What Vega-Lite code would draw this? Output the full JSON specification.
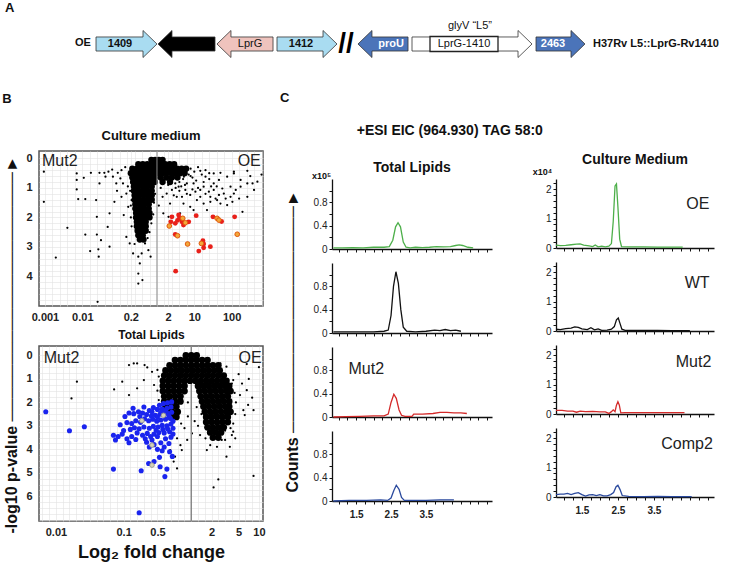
{
"$schema":"https://vega.github.io/schema/vega-lite/v6.json",
"background":"white",
"padding":{"left":2,"top":2,"right":2,"bottom":0},
"config":{
 "font":"Liberation Sans",
 "view":{"stroke":null},
 "axis":{"labelFont":"Liberation Sans","titleFont":"Liberation Sans","domainColor":"#111","tickColor":"#111","labelColor":"#222","titleColor":"#111","labelFlush":false,"labelOverlap":false},
 "title":{"font":"Liberation Sans","fontWeight":"bold","color":"#111"}
},
"datasets":{
 "genes":[
  {"gene":"Rv1409","label":"1409","kind":"light","center":126.5,"mid":120},
  {"gene":"Rv1410c","label":"","kind":"black","center":186.5,"mid":190},
  {"gene":"LprG","label":"LprG","kind":"pink","center":245,"mid":250},
  {"gene":"Rv1412","label":"1412","kind":"light","center":307,"mid":301},
  {"gene":"proU","label":"proU","kind":"dark","center":383,"mid":391},
  {"gene":"L5","label":"","kind":"white","center":472,"mid":464},
  {"gene":"Rv2463","label":"2463","kind":"dark","center":560.5,"mid":553}
 ],
 "cm_ns":[
  {"lfc":-3.03,"nlp":0.45},{"lfc":-3.03,"nlp":1.47},{"lfc":-2.71,"nlp":3.36},{"lfc":-2.4,"nlp":2.35},{"lfc":-2.15,"nlp":0.51},{"lfc":-2.15,"nlp":0.73},{"lfc":-2.15,"nlp":1.05},{"lfc":-2.11,"nlp":1.38},{"lfc":-1.96,"nlp":0.66},{"lfc":-1.92,"nlp":1.38},{"lfc":-1.92,"nlp":2.58},{"lfc":-1.79,"nlp":3.14},{"lfc":-1.77,"nlp":0.49},{"lfc":-1.63,"nlp":1.41},{"lfc":-1.61,"nlp":1.98},{"lfc":-1.61,"nlp":2.58},{"lfc":-1.57,"nlp":3.08},{"lfc":-1.56,"nlp":3.33},{"lfc":-1.59,"nlp":4.86},{"lfc":-1.54,"nlp":0.49},{"lfc":-1.5,"nlp":2.77},{"lfc":-1.54,"nlp":0.85},{"lfc":-1.41,"nlp":0.49},{"lfc":-1.38,"nlp":0.62},{"lfc":-1.32,"nlp":2.32},{"lfc":-1.27,"nlp":2.99},{"lfc":-1.27,"nlp":1.86},{"lfc":-1.14,"nlp":1.47},{"lfc":-1.18,"nlp":0.62},{"lfc":-1.09,"nlp":0.85},{"lfc":-1.05,"nlp":0.49},{"lfc":-0.98,"nlp":0.68},{"lfc":-0.91,"nlp":0.85},{"lfc":-1.07,"nlp":1.1},{"lfc":-0.95,"nlp":1.3},{"lfc":-0.82,"nlp":1.19},{"lfc":-0.77,"nlp":1.64},{"lfc":-0.89,"nlp":1.92},{"lfc":-0.68,"nlp":1.41},{"lfc":-0.82,"nlp":2.66},{"lfc":-0.73,"nlp":2.88},{"lfc":-0.64,"nlp":3.22},{"lfc":-0.5,"nlp":3.33},{"lfc":-0.41,"nlp":3.22},{"lfc":-0.17,"nlp":3.33},{"lfc":-0.5,"nlp":3.9},{"lfc":-0.5,"nlp":4.24},{"lfc":-0.39,"nlp":4.12},{"lfc":-0.46,"nlp":3.56},{"lfc":-0.23,"nlp":3.11},{"lfc":-0.32,"nlp":2.88},
  {"lfc":-0.85,"nlp":0.3},{"lfc":-0.95,"nlp":0.4},{"lfc":-1.2,"nlp":0.38},{"lfc":-1.3,"nlp":0.45},{"lfc":-0.78,"nlp":0.95},{"lfc":-0.72,"nlp":1.1},{"lfc":-0.7,"nlp":1.6},{"lfc":-0.7,"nlp":2.0},{"lfc":-0.68,"nlp":2.3},{"lfc":-0.6,"nlp":2.9},{"lfc":-0.25,"nlp":2.7},{"lfc":-0.2,"nlp":2.5},{"lfc":-0.15,"nlp":2.2},{"lfc":-0.1,"nlp":1.9},{"lfc":-0.08,"nlp":1.5},{"lfc":-0.05,"nlp":1.2},
  {"lfc":0.44,"nlp":0.62},{"lfc":0.8,"nlp":0.85},{"lfc":1.16,"nlp":1.07},{"lfc":1.52,"nlp":0.85},{"lfc":1.88,"nlp":0.62},{"lfc":2.06,"nlp":0.51},{"lfc":2.24,"nlp":0.73},{"lfc":2.42,"nlp":0.85},{"lfc":2.69,"nlp":0.79},{"lfc":2.6,"nlp":1.07},{"lfc":2.42,"nlp":1.3},{"lfc":2.29,"nlp":1.81},{"lfc":2.06,"nlp":1.19},{"lfc":1.79,"nlp":1.19},{"lfc":1.61,"nlp":1.41},{"lfc":1.43,"nlp":1.3},{"lfc":1.25,"nlp":1.53},{"lfc":1.07,"nlp":1.41},{"lfc":0.89,"nlp":1.64},{"lfc":0.71,"nlp":1.53},{"lfc":0.53,"nlp":1.3},{"lfc":0.35,"nlp":1.53},{"lfc":0.26,"nlp":1.19},{"lfc":0.17,"nlp":1.86},{"lfc":0.31,"nlp":1.98},{"lfc":0.62,"nlp":1.86},{"lfc":0.98,"nlp":1.75},{"lfc":1.34,"nlp":1.75},{"lfc":1.7,"nlp":1.53},{"lfc":1.97,"nlp":0.96},{"lfc":1.66,"nlp":0.73},{"lfc":1.3,"nlp":0.62},{"lfc":0.98,"nlp":0.85},
  {"lfc":1.25,"nlp":0.96},{"lfc":1.39,"nlp":1.13},{"lfc":1.52,"nlp":1.07},{"lfc":1.66,"nlp":1.24},{"lfc":1.75,"nlp":1.02},{"lfc":1.84,"nlp":1.36},{"lfc":1.97,"nlp":1.3},{"lfc":2.11,"nlp":1.07},{"lfc":2.2,"nlp":1.36},{"lfc":2.02,"nlp":1.47},{"lfc":1.88,"nlp":1.58},{"lfc":1.57,"nlp":1.36},{"lfc":1.43,"nlp":1.47},{"lfc":1.16,"nlp":1.3},{"lfc":1.03,"nlp":1.13},{"lfc":0.89,"nlp":1.24},{"lfc":0.76,"nlp":1.07},{"lfc":0.67,"nlp":1.3},{"lfc":0.58,"nlp":0.96},{"lfc":0.49,"nlp":0.85},{"lfc":0.4,"nlp":1.07},
  {"lfc":1.16,"nlp":0.42},{"lfc":1.52,"nlp":0.51},{"lfc":1.7,"nlp":0.49},{"lfc":2.06,"nlp":0.45},{"lfc":2.42,"nlp":0.42},{"lfc":2.56,"nlp":0.85},{"lfc":2.24,"nlp":0.96},
  {"lfc":0.2,"nlp":0.7},{"lfc":0.3,"nlp":0.9},{"lfc":0.1,"nlp":1.0},{"lfc":0.15,"nlp":1.3},{"lfc":0.05,"nlp":1.6},{"lfc":0.7,"nlp":0.7},{"lfc":0.9,"nlp":0.6},{"lfc":1.05,"nlp":0.75},{"lfc":1.25,"nlp":0.8},{"lfc":1.4,"nlp":0.7},{"lfc":1.6,"nlp":0.95},{"lfc":1.45,"nlp":0.95},{"lfc":1.3,"nlp":1.2},{"lfc":1.1,"nlp":1.0},{"lfc":0.95,"nlp":1.05},{"lfc":0.8,"nlp":1.2},{"lfc":0.6,"nlp":1.1},{"lfc":0.45,"nlp":1.25},{"lfc":2.5,"nlp":0.6},{"lfc":2.8,"nlp":0.55},
  {"lfc":0.9,"nlp":0.35},{"lfc":1.0,"nlp":0.45},{"lfc":1.1,"nlp":0.3},{"lfc":1.2,"nlp":0.55},{"lfc":0.85,"nlp":0.55},{"lfc":0.95,"nlp":0.65},{"lfc":1.3,"nlp":0.4},{"lfc":1.4,"nlp":0.5},{"lfc":0.75,"nlp":0.9},{"lfc":0.65,"nlp":0.95},{"lfc":0.5,"nlp":1.0},{"lfc":0.72,"nlp":0.62},{"lfc":0.6,"nlp":0.8}
 ],
 "cm_core":[
  {"lfc":-0.15,"nlp":0.05},{"lfc":-0.05,"nlp":0.05},{"lfc":0.05,"nlp":0.05},{"lfc":0.15,"nlp":0.05},
  {"lfc":-0.5,"nlp":0.2},{"lfc":-0.38,"nlp":0.2},{"lfc":-0.26,"nlp":0.2},{"lfc":-0.14,"nlp":0.2},{"lfc":-0.02,"nlp":0.2},{"lfc":0.1,"nlp":0.2},{"lfc":0.22,"nlp":0.2},{"lfc":0.34,"nlp":0.2},{"lfc":0.46,"nlp":0.2},
  {"lfc":-0.66,"nlp":0.35},{"lfc":-0.54,"nlp":0.35},{"lfc":-0.42,"nlp":0.35},{"lfc":-0.3,"nlp":0.35},{"lfc":-0.18,"nlp":0.35},{"lfc":-0.06,"nlp":0.35},{"lfc":0.06,"nlp":0.35},{"lfc":0.18,"nlp":0.35},{"lfc":0.3,"nlp":0.35},{"lfc":0.42,"nlp":0.35},{"lfc":0.54,"nlp":0.35},{"lfc":0.66,"nlp":0.35},{"lfc":0.78,"nlp":0.35},
  {"lfc":-0.7,"nlp":0.5},{"lfc":-0.58,"nlp":0.5},{"lfc":-0.46,"nlp":0.5},{"lfc":-0.34,"nlp":0.5},{"lfc":-0.22,"nlp":0.5},{"lfc":-0.1,"nlp":0.5},{"lfc":0.02,"nlp":0.5},{"lfc":0.14,"nlp":0.5},{"lfc":0.26,"nlp":0.5},{"lfc":0.38,"nlp":0.5},{"lfc":0.5,"nlp":0.5},{"lfc":0.62,"nlp":0.5},{"lfc":0.74,"nlp":0.5},
  {"lfc":-0.66,"nlp":0.65},{"lfc":-0.54,"nlp":0.65},{"lfc":-0.42,"nlp":0.65},{"lfc":-0.3,"nlp":0.65},{"lfc":-0.18,"nlp":0.65},{"lfc":-0.06,"nlp":0.65},{"lfc":0.1,"nlp":0.65},{"lfc":0.25,"nlp":0.65},{"lfc":0.4,"nlp":0.65},{"lfc":0.55,"nlp":0.65},
  {"lfc":-0.64,"nlp":0.8},{"lfc":-0.52,"nlp":0.8},{"lfc":-0.4,"nlp":0.8},{"lfc":-0.28,"nlp":0.8},{"lfc":-0.16,"nlp":0.8},{"lfc":-0.06,"nlp":0.8},{"lfc":0.15,"nlp":0.8},{"lfc":0.35,"nlp":0.8},
  {"lfc":-0.62,"nlp":0.95},{"lfc":-0.5,"nlp":0.95},{"lfc":-0.38,"nlp":0.95},{"lfc":-0.26,"nlp":0.95},{"lfc":-0.14,"nlp":0.95},
  {"lfc":-0.62,"nlp":1.1},{"lfc":-0.5,"nlp":1.1},{"lfc":-0.38,"nlp":1.1},{"lfc":-0.26,"nlp":1.1},{"lfc":-0.14,"nlp":1.1},
  {"lfc":-0.6,"nlp":1.25},{"lfc":-0.48,"nlp":1.25},{"lfc":-0.36,"nlp":1.25},{"lfc":-0.24,"nlp":1.25},{"lfc":-0.14,"nlp":1.25},
  {"lfc":-0.6,"nlp":1.4},{"lfc":-0.48,"nlp":1.4},{"lfc":-0.36,"nlp":1.4},{"lfc":-0.24,"nlp":1.4},{"lfc":-0.14,"nlp":1.4},
  {"lfc":-0.58,"nlp":1.55},{"lfc":-0.46,"nlp":1.55},{"lfc":-0.34,"nlp":1.55},{"lfc":-0.22,"nlp":1.55},
  {"lfc":-0.58,"nlp":1.7},{"lfc":-0.46,"nlp":1.7},{"lfc":-0.34,"nlp":1.7},{"lfc":-0.22,"nlp":1.7},
  {"lfc":-0.56,"nlp":1.85},{"lfc":-0.44,"nlp":1.85},{"lfc":-0.32,"nlp":1.85},{"lfc":-0.2,"nlp":1.85},
  {"lfc":-0.56,"nlp":2.0},{"lfc":-0.44,"nlp":2.0},{"lfc":-0.32,"nlp":2.0},{"lfc":-0.2,"nlp":2.0},
  {"lfc":-0.54,"nlp":2.15},{"lfc":-0.42,"nlp":2.15},{"lfc":-0.3,"nlp":2.15},
  {"lfc":-0.54,"nlp":2.3},{"lfc":-0.42,"nlp":2.3},{"lfc":-0.3,"nlp":2.3},
  {"lfc":-0.52,"nlp":2.45},{"lfc":-0.4,"nlp":2.45},{"lfc":-0.3,"nlp":2.45},
  {"lfc":-0.5,"nlp":2.6},{"lfc":-0.38,"nlp":2.6},
  {"lfc":-0.46,"nlp":2.75},{"lfc":-0.36,"nlp":2.75}
 ],
 "cm_red":[
  {"lfc":0.4,"nlp":1.98},{"lfc":0.58,"nlp":1.92},{"lfc":0.67,"nlp":2.15},{"lfc":0.71,"nlp":2.26},{"lfc":0.85,"nlp":2.15},{"lfc":0.37,"nlp":2.15},{"lfc":0.49,"nlp":2.2},{"lfc":1.05,"nlp":1.94},{"lfc":1.5,"nlp":1.98},{"lfc":1.73,"nlp":2.14},{"lfc":2.08,"nlp":1.98},{"lfc":0.49,"nlp":2.58},{"lfc":1.23,"nlp":2.79},{"lfc":1.25,"nlp":2.9},{"lfc":1.25,"nlp":3.03},{"lfc":1.12,"nlp":3.14},{"lfc":1.43,"nlp":2.99},{"lfc":0.5,"nlp":3.82},{"lfc":0.6,"nlp":2.03},{"lfc":0.55,"nlp":2.1}
 ],
 "cm_orange":[
  {"lfc":0.33,"nlp":2.29},{"lfc":0.69,"nlp":2.03},{"lfc":0.76,"nlp":2.18},{"lfc":0.55,"nlp":2.62},{"lfc":0.82,"nlp":2.9},{"lfc":1.61,"nlp":2.03},{"lfc":1.66,"nlp":2.09},{"lfc":2.15,"nlp":2.57},{"lfc":1.19,"nlp":2.88}
 ],
 "tl_ns":[
  {"lfc":-0.92,"nlp":0.41},{"lfc":-0.85,"nlp":0.34},{"lfc":-0.8,"nlp":0.34},{"lfc":-0.69,"nlp":0.41},{"lfc":-0.65,"nlp":0.51},{"lfc":-1.69,"nlp":1.12},{"lfc":-1.77,"nlp":1.83},{"lfc":-1.14,"nlp":1.45},{"lfc":-1.02,"nlp":1.12},{"lfc":-0.92,"nlp":1.69},{"lfc":-0.8,"nlp":1.4},{"lfc":-0.7,"nlp":1.05},{"lfc":-0.58,"nlp":0.7},{"lfc":-0.5,"nlp":0.62},{"lfc":-0.55,"nlp":1.26},{"lfc":0.43,"nlp":0.34},{"lfc":0.52,"nlp":0.48},{"lfc":0.62,"nlp":1.05},{"lfc":0.72,"nlp":1.69},{"lfc":0.82,"nlp":1.48},{"lfc":0.84,"nlp":2.11},{"lfc":0.92,"nlp":2.33},{"lfc":0.82,"nlp":0.37},{"lfc":0.79,"nlp":2.54},{"lfc":0.77,"nlp":2.33},{"lfc":0.62,"nlp":3.25},{"lfc":0.57,"nlp":3.89},{"lfc":0.52,"nlp":4.31},{"lfc":0.4,"nlp":5.28},{"lfc":0.33,"nlp":5.62},{"lfc":0.92,"nlp":5.13},{"lfc":0.28,"nlp":3.82},{"lfc":0.23,"nlp":4.03},{"lfc":0.38,"nlp":3.89},{"lfc":0.21,"nlp":3.53},{"lfc":0.13,"nlp":3.39},{"lfc":0.01,"nlp":3.32},{"lfc":-0.06,"nlp":3.6},{"lfc":-0.16,"nlp":3.82},{"lfc":-0.14,"nlp":4.03},{"lfc":-0.24,"nlp":4.31},{"lfc":-0.26,"nlp":4.52},{"lfc":-0.21,"nlp":4.81},{"lfc":-0.31,"nlp":4.03},{"lfc":-0.21,"nlp":3.53},{"lfc":0.65,"nlp":3.53},{"lfc":0.6,"nlp":3.39},{"lfc":0.5,"nlp":3.6},{"lfc":0.4,"nlp":3.39},{"lfc":0.33,"nlp":3.18},
  {"lfc":-0.48,"nlp":0.9},{"lfc":-0.5,"nlp":1.5},{"lfc":-0.48,"nlp":1.9},{"lfc":-0.46,"nlp":2.3},{"lfc":0.6,"nlp":1.2},{"lfc":0.64,"nlp":1.6},{"lfc":0.66,"nlp":2.0},{"lfc":0.65,"nlp":2.5},{"lfc":0.62,"nlp":2.9},{"lfc":0.58,"nlp":3.1},{"lfc":0.5,"nlp":3.2},{"lfc":0.45,"nlp":3.6},{"lfc":-0.1,"nlp":3.1},{"lfc":-0.15,"nlp":2.9},{"lfc":-0.05,"nlp":2.6},{"lfc":0.05,"nlp":2.8},{"lfc":0.1,"nlp":3.0},{"lfc":0.15,"nlp":2.5},{"lfc":0.08,"nlp":2.2},{"lfc":-0.05,"nlp":2.0},{"lfc":0.7,"nlp":0.8},{"lfc":0.75,"nlp":1.2},{"lfc":0.85,"nlp":1.0},{"lfc":0.9,"nlp":1.8},{"lfc":1.0,"nlp":0.5}
 ],
 "tl_core":[
  {"lfc":-0.08,"nlp":0},{"lfc":0,"nlp":0},{"lfc":0.08,"nlp":0},
  {"lfc":-0.24,"nlp":0.2},{"lfc":-0.16,"nlp":0.2},{"lfc":-0.08,"nlp":0.2},{"lfc":0,"nlp":0.2},{"lfc":0.08,"nlp":0.2},{"lfc":0.16,"nlp":0.2},{"lfc":0.24,"nlp":0.2},
  {"lfc":-0.32,"nlp":0.42},{"lfc":-0.24,"nlp":0.42},{"lfc":-0.16,"nlp":0.42},{"lfc":-0.08,"nlp":0.42},{"lfc":0,"nlp":0.42},{"lfc":0.08,"nlp":0.42},{"lfc":0.16,"nlp":0.42},{"lfc":0.24,"nlp":0.42},{"lfc":0.32,"nlp":0.42},{"lfc":0.4,"nlp":0.42},
  {"lfc":-0.38,"nlp":0.64},{"lfc":-0.3,"nlp":0.64},{"lfc":-0.22,"nlp":0.64},{"lfc":-0.14,"nlp":0.64},{"lfc":-0.06,"nlp":0.64},{"lfc":0.02,"nlp":0.64},{"lfc":0.1,"nlp":0.64},{"lfc":0.18,"nlp":0.64},{"lfc":0.26,"nlp":0.64},{"lfc":0.34,"nlp":0.64},{"lfc":0.42,"nlp":0.64},
  {"lfc":-0.4,"nlp":0.86},{"lfc":-0.32,"nlp":0.86},{"lfc":-0.24,"nlp":0.86},{"lfc":-0.16,"nlp":0.86},{"lfc":-0.08,"nlp":0.86},{"lfc":0,"nlp":0.86},{"lfc":0.08,"nlp":0.86},{"lfc":0.16,"nlp":0.86},{"lfc":0.24,"nlp":0.86},{"lfc":0.32,"nlp":0.86},{"lfc":0.4,"nlp":0.86},{"lfc":0.48,"nlp":0.86},
  {"lfc":-0.42,"nlp":1.08},{"lfc":-0.34,"nlp":1.08},{"lfc":-0.26,"nlp":1.08},{"lfc":-0.18,"nlp":1.08},{"lfc":-0.1,"nlp":1.08},{"lfc":-0.02,"nlp":1.08},{"lfc":0.06,"nlp":1.08},{"lfc":0.14,"nlp":1.08},{"lfc":0.22,"nlp":1.08},{"lfc":0.3,"nlp":1.08},{"lfc":0.38,"nlp":1.08},{"lfc":0.46,"nlp":1.08},{"lfc":0.52,"nlp":1.08},
  {"lfc":-0.42,"nlp":1.3},{"lfc":-0.34,"nlp":1.3},{"lfc":-0.26,"nlp":1.3},{"lfc":-0.18,"nlp":1.3},{"lfc":-0.1,"nlp":1.3},{"lfc":0.1,"nlp":1.3},{"lfc":0.18,"nlp":1.3},{"lfc":0.26,"nlp":1.3},{"lfc":0.34,"nlp":1.3},{"lfc":0.42,"nlp":1.3},{"lfc":0.5,"nlp":1.3},{"lfc":0.56,"nlp":1.3},
  {"lfc":-0.42,"nlp":1.52},{"lfc":-0.34,"nlp":1.52},{"lfc":-0.26,"nlp":1.52},{"lfc":-0.18,"nlp":1.52},{"lfc":-0.1,"nlp":1.52},{"lfc":0.12,"nlp":1.52},{"lfc":0.2,"nlp":1.52},{"lfc":0.28,"nlp":1.52},{"lfc":0.36,"nlp":1.52},{"lfc":0.44,"nlp":1.52},{"lfc":0.52,"nlp":1.52},{"lfc":0.58,"nlp":1.52},
  {"lfc":-0.4,"nlp":1.74},{"lfc":-0.32,"nlp":1.74},{"lfc":-0.24,"nlp":1.74},{"lfc":-0.16,"nlp":1.74},{"lfc":0.14,"nlp":1.74},{"lfc":0.22,"nlp":1.74},{"lfc":0.3,"nlp":1.74},{"lfc":0.38,"nlp":1.74},{"lfc":0.46,"nlp":1.74},{"lfc":0.54,"nlp":1.74},
  {"lfc":-0.4,"nlp":1.96},{"lfc":-0.32,"nlp":1.96},{"lfc":-0.24,"nlp":1.96},{"lfc":-0.16,"nlp":1.96},{"lfc":0.16,"nlp":1.96},{"lfc":0.24,"nlp":1.96},{"lfc":0.32,"nlp":1.96},{"lfc":0.4,"nlp":1.96},{"lfc":0.48,"nlp":1.96},{"lfc":0.56,"nlp":1.96},
  {"lfc":-0.38,"nlp":2.18},{"lfc":-0.3,"nlp":2.18},{"lfc":-0.22,"nlp":2.18},{"lfc":0.18,"nlp":2.18},{"lfc":0.26,"nlp":2.18},{"lfc":0.34,"nlp":2.18},{"lfc":0.42,"nlp":2.18},{"lfc":0.5,"nlp":2.18},{"lfc":0.56,"nlp":2.18},
  {"lfc":-0.36,"nlp":2.4},{"lfc":-0.28,"nlp":2.4},{"lfc":-0.2,"nlp":2.4},{"lfc":0.2,"nlp":2.4},{"lfc":0.28,"nlp":2.4},{"lfc":0.36,"nlp":2.4},{"lfc":0.44,"nlp":2.4},{"lfc":0.52,"nlp":2.4},{"lfc":0.58,"nlp":2.4},
  {"lfc":-0.3,"nlp":2.62},{"lfc":-0.22,"nlp":2.62},{"lfc":0.22,"nlp":2.62},{"lfc":0.3,"nlp":2.62},{"lfc":0.38,"nlp":2.62},{"lfc":0.46,"nlp":2.62},{"lfc":0.54,"nlp":2.62},
  {"lfc":0.22,"nlp":2.84},{"lfc":0.3,"nlp":2.84},{"lfc":0.38,"nlp":2.84},{"lfc":0.46,"nlp":2.84},{"lfc":0.54,"nlp":2.84},
  {"lfc":0.24,"nlp":3.06},{"lfc":0.32,"nlp":3.06},{"lfc":0.4,"nlp":3.06},{"lfc":0.48,"nlp":3.06},
  {"lfc":0.28,"nlp":3.28},{"lfc":0.36,"nlp":3.28},{"lfc":0.44,"nlp":3.28},
  {"lfc":0.32,"nlp":3.5},{"lfc":0.4,"nlp":3.5}
 ],
 "tl_blue":[
  {"lfc":-0.29,"nlp":1.98},{"lfc":-0.35,"nlp":2.02},{"lfc":-0.41,"nlp":2.05},{"lfc":-0.47,"nlp":2.12},{"lfc":-0.3,"nlp":2.2},{"lfc":-0.36,"nlp":2.25},{"lfc":-0.43,"nlp":2.28},{"lfc":-0.5,"nlp":2.3},{"lfc":-0.56,"nlp":2.22},{"lfc":-0.62,"nlp":2.35},{"lfc":-0.29,"nlp":2.42},{"lfc":-0.34,"nlp":2.48},{"lfc":-0.4,"nlp":2.52},{"lfc":-0.46,"nlp":2.5},{"lfc":-0.53,"nlp":2.55},{"lfc":-0.59,"nlp":2.58},{"lfc":-0.66,"nlp":2.52},{"lfc":-0.72,"nlp":2.45},{"lfc":-0.78,"nlp":2.4},{"lfc":-0.85,"nlp":2.48},{"lfc":-0.92,"nlp":2.45},{"lfc":-0.31,"nlp":2.68},{"lfc":-0.38,"nlp":2.72},{"lfc":-0.45,"nlp":2.75},{"lfc":-0.51,"nlp":2.8},{"lfc":-0.57,"nlp":2.72},{"lfc":-0.63,"nlp":2.78},{"lfc":-0.69,"nlp":2.7},{"lfc":-0.75,"nlp":2.85},{"lfc":-0.82,"nlp":2.78},{"lfc":-0.88,"nlp":2.9},{"lfc":-0.95,"nlp":2.86},{"lfc":-0.3,"nlp":2.92},{"lfc":-0.36,"nlp":3.0},{"lfc":-0.43,"nlp":2.98},{"lfc":-0.49,"nlp":3.05},{"lfc":-0.56,"nlp":3.02},{"lfc":-0.62,"nlp":3.1},{"lfc":-0.7,"nlp":3.05},{"lfc":-0.77,"nlp":3.12},{"lfc":-0.84,"nlp":3.08},{"lfc":-0.9,"nlp":3.15},{"lfc":-1.0,"nlp":3.2},{"lfc":-0.32,"nlp":3.25},{"lfc":-0.4,"nlp":3.3},{"lfc":-0.48,"nlp":3.28},{"lfc":-0.55,"nlp":3.35},{"lfc":-0.65,"nlp":3.32},{"lfc":-0.72,"nlp":3.4},{"lfc":-0.8,"nlp":3.3},{"lfc":-0.88,"nlp":3.45},{"lfc":-0.3,"nlp":3.48},{"lfc":-0.38,"nlp":3.55},{"lfc":-0.58,"nlp":3.6},{"lfc":-0.66,"nlp":3.7},{"lfc":-0.45,"nlp":3.72},{"lfc":-0.92,"nlp":3.72},{"lfc":-1.08,"nlp":3.45},{"lfc":-1.12,"nlp":3.6},{"lfc":-1.15,"nlp":3.4},{"lfc":-0.33,"nlp":3.75},{"lfc":-0.4,"nlp":3.9},{"lfc":-0.5,"nlp":4.0},{"lfc":-0.43,"nlp":4.06},{"lfc":-0.47,"nlp":4.34},{"lfc":-0.55,"nlp":4.52},{"lfc":-0.63,"nlp":4.6},{"lfc":-0.46,"nlp":4.74},{"lfc":-0.36,"nlp":4.84},{"lfc":-0.39,"nlp":5.16},{"lfc":-0.74,"nlp":4.91},{"lfc":-1.15,"nlp":4.84},{"lfc":-0.77,"nlp":6.7},{"lfc":-2.15,"nlp":2.4},{"lfc":-1.8,"nlp":3.21},{"lfc":-1.58,"nlp":3.04},{"lfc":-0.28,"nlp":4.3},{"lfc":-0.32,"nlp":4.1},{"lfc":-0.98,"nlp":2.6},{"lfc":-1.05,"nlp":2.95},{"lfc":-0.86,"nlp":2.25},{"lfc":-0.7,"nlp":2.2},{"lfc":-0.76,"nlp":2.6},{"lfc":-0.58,"nlp":2.4},{"lfc":-0.5,"nlp":2.62},{"lfc":-0.44,"nlp":2.42},{"lfc":-0.38,"nlp":2.35},{"lfc":-0.33,"nlp":2.58},{"lfc":-0.27,"nlp":2.8},{"lfc":-0.27,"nlp":3.1},{"lfc":-0.27,"nlp":3.35},{"lfc":-0.35,"nlp":3.12},{"lfc":-0.42,"nlp":3.15},{"lfc":-0.52,"nlp":3.18},{"lfc":-0.6,"nlp":3.45},{"lfc":-0.68,"nlp":3.55},{"lfc":-0.5,"nlp":3.45},{"lfc":-0.82,"nlp":3.58},{"lfc":-0.95,"nlp":3.55},{"lfc":-1.02,"nlp":3.35},{"lfc":-0.62,"nlp":3.9},{"lfc":-0.55,"nlp":3.8}
 ],
 "tl_grey":[
  {"lfc":-0.58,"nlp":3.82},{"lfc":-0.58,"nlp":4.67},{"lfc":-0.41,"nlp":2.55},{"lfc":-0.73,"nlp":2.78}
 ],
 "eic_tl_oe":[{"t":0.85,"c":0.02},{"t":1.1,"c":0.02},{"t":1.4,"c":0.025},{"t":1.7,"c":0.02},{"t":2.0,"c":0.03},{"t":2.3,"c":0.03},{"t":2.45,"c":0.04},{"t":2.55,"c":0.15},{"t":2.63,"c":0.38},{"t":2.7,"c":0.45},{"t":2.77,"c":0.38},{"t":2.85,"c":0.12},{"t":2.93,"c":0.03},{"t":3.05,"c":0.02},{"t":3.2,"c":0.03},{"t":3.4,"c":0.025},{"t":3.6,"c":0.03},{"t":3.8,"c":0.04},{"t":4.0,"c":0.035},{"t":4.2,"c":0.04},{"t":4.35,"c":0.06},{"t":4.45,"c":0.07},{"t":4.55,"c":0.06},{"t":4.7,"c":0.03},{"t":4.85,"c":0.02}],
 "eic_tl_wt":[{"t":0.85,"c":0.02},{"t":1.2,"c":0.02},{"t":1.6,"c":0.02},{"t":2.0,"c":0.02},{"t":2.3,"c":0.03},{"t":2.42,"c":0.05},{"t":2.5,"c":0.3},{"t":2.57,"c":0.8},{"t":2.64,"c":1.05},{"t":2.71,"c":0.85},{"t":2.78,"c":0.4},{"t":2.85,"c":0.1},{"t":2.95,"c":0.03},{"t":3.2,"c":0.02},{"t":3.5,"c":0.03},{"t":3.75,"c":0.05},{"t":3.9,"c":0.04},{"t":4.05,"c":0.06},{"t":4.2,"c":0.04},{"t":4.35,"c":0.05},{"t":4.5,"c":0.03}],
 "eic_tl_mut2":[{"t":0.85,"c":0.0},{"t":1.2,"c":0.005},{"t":1.6,"c":0.01},{"t":2.0,"c":0.02},{"t":2.3,"c":0.02},{"t":2.42,"c":0.05},{"t":2.5,"c":0.25},{"t":2.58,"c":0.39},{"t":2.65,"c":0.32},{"t":2.73,"c":0.12},{"t":2.8,"c":0.03},{"t":2.9,"c":0.01},{"t":3.1,"c":0.01},{"t":3.15,"c":0.05},{"t":3.4,"c":0.05},{"t":3.7,"c":0.06},{"t":3.9,"c":0.08},{"t":4.1,"c":0.08},{"t":4.3,"c":0.07},{"t":4.5,"c":0.07},{"t":4.67,"c":0.06}],
 "eic_tl_comp2":[{"t":0.85,"c":0.0},{"t":1.3,"c":0.01},{"t":1.8,"c":0.01},{"t":2.2,"c":0.02},{"t":2.4,"c":0.01},{"t":2.5,"c":0.05},{"t":2.58,"c":0.18},{"t":2.65,"c":0.27},{"t":2.73,"c":0.2},{"t":2.8,"c":0.06},{"t":2.88,"c":0.01},{"t":3.1,"c":0.01},{"t":3.5,"c":0.01},{"t":3.9,"c":0.02},{"t":4.3,"c":0.02}],
 "eic_cm_oe":[{"t":0.78,"c":0.1},{"t":0.9,"c":0.08},{"t":1.05,"c":0.09},{"t":1.2,"c":0.11},{"t":1.35,"c":0.13},{"t":1.45,"c":0.14},{"t":1.55,"c":0.1},{"t":1.7,"c":0.07},{"t":1.8,"c":0.05},{"t":1.87,"c":0.1},{"t":1.95,"c":0.04},{"t":2.05,"c":0.06},{"t":2.15,"c":0.04},{"t":2.25,"c":0.06},{"t":2.32,"c":0.15},{"t":2.37,"c":0.9},{"t":2.42,"c":2.1},{"t":2.46,"c":2.17},{"t":2.5,"c":1.4},{"t":2.55,"c":0.3},{"t":2.6,"c":0.05},{"t":2.8,"c":0.04},{"t":3.2,"c":0.04},{"t":3.6,"c":0.03},{"t":4.0,"c":0.03},{"t":4.3,"c":0.03}],
 "eic_cm_wt":[{"t":0.78,"c":0.06},{"t":0.9,"c":0.05},{"t":1.05,"c":0.08},{"t":1.2,"c":0.1},{"t":1.3,"c":0.14},{"t":1.4,"c":0.12},{"t":1.5,"c":0.07},{"t":1.65,"c":0.05},{"t":1.75,"c":0.11},{"t":1.85,"c":0.04},{"t":1.95,"c":0.07},{"t":2.05,"c":0.02},{"t":2.2,"c":0.03},{"t":2.32,"c":0.06},{"t":2.4,"c":0.15},{"t":2.46,"c":0.38},{"t":2.51,"c":0.44},{"t":2.56,"c":0.25},{"t":2.61,"c":0.06},{"t":2.7,"c":0.02},{"t":3.2,"c":0.02},{"t":3.6,"c":0.02},{"t":4.0,"c":0.01},{"t":4.5,"c":0.01}],
 "eic_cm_mut2":[{"t":0.78,"c":0.12},{"t":0.95,"c":0.12},{"t":1.1,"c":0.1},{"t":1.25,"c":0.1},{"t":1.35,"c":0.06},{"t":1.45,"c":0.1},{"t":1.6,"c":0.08},{"t":1.8,"c":0.09},{"t":2.0,"c":0.07},{"t":2.15,"c":0.07},{"t":2.25,"c":0.02},{"t":2.32,"c":0.08},{"t":2.37,"c":0.14},{"t":2.42,"c":0.08},{"t":2.46,"c":0.3},{"t":2.5,"c":0.42},{"t":2.54,"c":0.3},{"t":2.58,"c":0.04},{"t":2.7,"c":0.05},{"t":3.0,"c":0.05},{"t":3.5,"c":0.05},{"t":4.0,"c":0.05},{"t":4.35,"c":0.05}],
 "eic_cm_comp2":[{"t":0.78,"c":0.08},{"t":0.9,"c":0.1},{"t":1.0,"c":0.1},{"t":1.1,"c":0.12},{"t":1.2,"c":0.08},{"t":1.3,"c":0.12},{"t":1.4,"c":0.15},{"t":1.5,"c":0.08},{"t":1.6,"c":0.03},{"t":1.7,"c":0.07},{"t":1.8,"c":0.08},{"t":1.9,"c":0.05},{"t":2.0,"c":0.08},{"t":2.1,"c":0.04},{"t":2.2,"c":0.04},{"t":2.3,"c":0.08},{"t":2.38,"c":0.15},{"t":2.45,"c":0.35},{"t":2.5,"c":0.4},{"t":2.56,"c":0.25},{"t":2.62,"c":0.05},{"t":2.8,"c":0.02},{"t":3.2,"c":0.01},{"t":3.6,"c":0.02},{"t":4.0,"c":0.01},{"t":4.55,"c":0.01}]
},
"spacing":22,
"vconcat":[
 {
  "title":{"text":"A","anchor":"start","fontSize":13,"offset":4,"dx":-34},
  "width":706,"height":50,
  "layer":[
   {"data":{"name":"genes"},
    "mark":{"type":"point","filled":true,"opacity":1,"size":14400,"stroke":"#333","strokeWidth":0.8},
    "encoding":{
     "x":{"field":"center","type":"quantitative","scale":{"domain":[39,745],"nice":false,"zero":false},"axis":null},
     "y":{"datum":0,"type":"quantitative","scale":{"domain":[-1,1],"nice":false,"zero":false},"axis":null},
     "shape":{"field":"gene","type":"nominal","legend":null,"scale":{
       "domain":["Rv1409","Rv1410c","LprG","Rv1412","proU","L5","Rv2463"],
       "range":[
        "M-0.508,-0.117L0.275,-0.117L0.275,-0.225L0.508,0L0.275,0.225L0.275,0.117L-0.508,0.117Z",
        "M0.475,-0.117L-0.242,-0.117L-0.242,-0.225L-0.475,0L-0.242,0.225L-0.242,0.117L0.475,0.117Z",
        "M0.467,-0.117L-0.234,-0.117L-0.234,-0.225L-0.467,0L-0.234,0.225L-0.234,0.117L0.467,0.117Z",
        "M-0.5,-0.117L0.267,-0.117L0.267,-0.225L0.5,0L0.267,0.225L0.267,0.117L-0.5,0.117Z",
        "M0.417,-0.117L-0.184,-0.117L-0.184,-0.225L-0.417,0L-0.184,0.225L-0.184,0.117L0.417,0.117Z",
        "M-1,-0.117L0.767,-0.117L0.767,-0.225L1,0L0.767,0.225L0.767,0.117L-1,0.117Z",
        "M-0.408,-0.117L0.175,-0.117L0.175,-0.225L0.408,0L0.175,0.225L0.175,0.117L-0.408,0.117Z"]}},
     "fill":{"field":"kind","type":"nominal","legend":null,"scale":{"domain":["light","black","pink","dark","white"],"range":["#a9dcf1","#000000","#efc3bd","#4b74b9","#ffffff"]}}
    }},
   {"data":{"values":[{"insert":"LprG-1410","start":430,"end":498}]},
    "mark":{"type":"rect","fill":"white","stroke":"#222","strokeWidth":1.3},
    "encoding":{"x":{"field":"start","type":"quantitative","axis":null},"x2":{"field":"end"},"y":{"datum":-0.3,"type":"quantitative","axis":null},"y2":{"datum":0.3}}},
   {"data":{"values":[{"insert":"LprG-1410","mid":464}]},
    "mark":{"type":"text","fontSize":11,"color":"#111"},
    "encoding":{"x":{"field":"mid","type":"quantitative","axis":null},"y":{"datum":0,"type":"quantitative","axis":null},"text":{"field":"insert"}}},
   {"data":{"name":"genes"},"transform":[{"filter":{"field":"label","oneOf":["LprG"]}}],
    "mark":{"type":"text","fontSize":11,"color":"#111"},
    "encoding":{"x":{"field":"mid","type":"quantitative","axis":null},"y":{"datum":0,"type":"quantitative","axis":null},"text":{"field":"label"}}},
   {"data":{"name":"genes"},"transform":[{"filter":{"field":"label","oneOf":["1409","1412"]}}],
    "mark":{"type":"text","fontSize":11,"fontWeight":"bold","color":"#111"},
    "encoding":{"x":{"field":"mid","type":"quantitative","axis":null},"y":{"datum":0,"type":"quantitative","axis":null},"text":{"field":"label"}}},
   {"data":{"name":"genes"},"transform":[{"filter":{"field":"label","oneOf":["proU","2463"]}}],
    "mark":{"type":"text","fontSize":11,"fontWeight":"bold","color":"#ffffff"},
    "encoding":{"x":{"field":"mid","type":"quantitative","axis":null},"y":{"datum":0,"type":"quantitative","axis":null},"text":{"field":"label"}}},
   {"data":{"values":[{"strain":"OE"}]},
    "mark":{"type":"text","fontSize":11,"fontWeight":"bold","color":"#111"},
    "encoding":{"x":{"datum":83,"type":"quantitative","axis":null},"y":{"datum":0.05,"type":"quantitative","axis":null},"text":{"field":"strain"}}},
   {"data":{"values":[{"strain":"H37Rv L5::LprG-Rv1410"}]},
    "mark":{"type":"text","fontSize":11,"fontWeight":"bold","align":"left","color":"#111"},
    "encoding":{"x":{"datum":593,"type":"quantitative","axis":null},"y":{"datum":0,"type":"quantitative","axis":null},"text":{"field":"strain"}}},
   {"data":{"values":[{"site":"glyV “L5”"}]},
    "mark":{"type":"text","fontSize":11,"color":"#111"},
    "encoding":{"x":{"datum":470,"type":"quantitative","axis":null},"y":{"datum":0.74,"type":"quantitative","axis":null},"text":{"field":"site"}}},
   {"data":{"values":[{"sym":"//"}]},
    "mark":{"type":"text","fontSize":28,"fontWeight":"bold","color":"#000"},
    "encoding":{"x":{"datum":346,"type":"quantitative","axis":null},"y":{"datum":0,"type":"quantitative","axis":null},"text":{"field":"sym"}}}
  ]
 },
 {
  "spacing":14,
  "hconcat":[
   {
    "title":{"text":"B","anchor":"start","fontSize":13,"offset":23,"dx":0},
    "bounds":"flush","spacing":40,
    "vconcat":[
     {
      "title":{"text":"Culture medium","fontSize":13,"offset":8},
      "width":224,"height":155,
      "view":{"stroke":"#555","strokeWidth":1.5},
      "encoding":{
       "x":{"field":"lfc","type":"quantitative","scale":{"domain":[-3.16,2.84],"nice":false,"zero":false},
        "axis":{"title":"Total Lipids","titleFontSize":12,"titleFontWeight":"bold","titlePadding":7,"ticks":false,"domain":false,"grid":true,"gridColor":"#e2e2e2","gridWidth":0.6,"labelOverlap":false,
         "values":[-3,-2.8,-2.6,-2.4,-2.2,-2,-1.8,-1.6,-1.4,-1.2,-1,-0.8,-0.6,-0.4,-0.2,0,0.2,0.4,0.6,0.8,1,1.2,1.4,1.6,1.8,2,2.2,2.4,2.6,2.8,-0.7,0.3],
         "labelExpr":"datum.value==-3?'0.001':datum.value==-2?'0.01':datum.value==-0.7?'0.2':datum.value==0.3?'2':datum.value==1?'10':datum.value==2?'100':''",
         "labelFontSize":11,"labelFontWeight":"bold","labelPadding":5}},
       "y":{"field":"nlp","type":"quantitative","scale":{"domain":[-0.25,5],"reverse":true,"nice":false,"zero":false},
        "axis":{"title":null,"ticks":false,"domain":false,"grid":true,"gridColor":"#e2e2e2","gridWidth":0.6,"labelOverlap":false,
         "values":[0,0.2,0.4,0.6,0.8,1,1.2,1.4,1.6,1.8,2,2.2,2.4,2.6,2.8,3,3.2,3.4,3.6,3.8,4,4.2,4.4,4.6,4.8],
         "labelExpr":"datum.value==0?'0':datum.value==1?'1':datum.value==2?'2':datum.value==3?'3':datum.value==4?'4':''",
         "labelFontSize":11,"labelFontWeight":"bold","labelPadding":7}}
      },
      "layer":[
       {"data":{"name":"cm_ns"},"mark":{"type":"circle","color":"#000","size":5,"opacity":1}},
       {"data":{"name":"cm_core"},"mark":{"type":"circle","color":"#000","size":40,"opacity":1}},
       {"data":{"name":"cm_red"},"mark":{"type":"circle","color":"#e8201a","size":24,"opacity":1}},
       {"data":{"name":"cm_orange"},"mark":{"type":"point","filled":true,"fill":"#f2a83a","stroke":"#e2580c","strokeWidth":1,"size":22,"opacity":1}},
       {"data":{"values":[{"lfc":0,"nlp":-0.25,"nlp_end":5}]},"mark":{"type":"rule","color":"#8a8a8a","strokeWidth":1},
        "encoding":{"y2":{"field":"nlp_end"}}},
       {"data":{"values":[{"strain":"Mut2","lfc":-3.08,"nlp":0.1}]},"mark":{"type":"text","align":"left","fontSize":16,"color":"#222"},
        "encoding":{"text":{"field":"strain"}}},
       {"data":{"values":[{"strain":"OE","lfc":2.78,"nlp":0.1}]},"mark":{"type":"text","align":"right","fontSize":16,"color":"#222"},
        "encoding":{"text":{"field":"strain"}}}
      ]
     },
     {
      "width":224,"height":175,
      "view":{"stroke":"#555","strokeWidth":1.5},
      "encoding":{
       "x":{"field":"lfc","type":"quantitative","scale":{"domain":[-2.25,1.06],"nice":false,"zero":false},
        "axis":{"title":"Log₂ fold change","titleFontSize":18,"titleFontWeight":"bold","titlePadding":6,"ticks":false,"domain":false,"grid":true,"gridColor":"#e2e2e2","gridWidth":0.6,"labelOverlap":false,
         "values":[-2.2,-2.1,-2,-1.9,-1.8,-1.7,-1.6,-1.5,-1.4,-1.3,-1.2,-1.1,-1,-0.9,-0.8,-0.7,-0.6,-0.5,-0.4,-0.3,-0.2,-0.1,0,0.1,0.2,0.3,0.4,0.5,0.6,0.7,0.8,0.9,1],
         "labelExpr":"datum.value==-2?'0.01':datum.value==-1?'0.1':datum.value==-0.5?'0.5':datum.value==0.3?'2':datum.value==0.7?'5':datum.value==1?'10':''",
         "labelFontSize":11,"labelFontWeight":"bold","labelPadding":5}},
       "y":{"field":"nlp","type":"quantitative","scale":{"domain":[-0.4,7.05],"reverse":true,"nice":false,"zero":false},
        "axis":{"title":"-log10 p-value  ──────────────────────►","titleFontSize":16,"titleFontWeight":"bold","titleAngle":-90,"titleAlign":"left","titleBaseline":"middle","titleX":-28,"titleY":187,
         "ticks":false,"domain":false,"grid":true,"gridColor":"#e2e2e2","gridWidth":0.6,"labelOverlap":false,
         "values":[0,0.25,0.5,0.75,1,1.25,1.5,1.75,2,2.25,2.5,2.75,3,3.25,3.5,3.75,4,4.25,4.5,4.75,5,5.25,5.5,5.75,6,6.25,6.5,6.75,7],
         "labelExpr":"datum.value==0?'0':datum.value==1?'1':datum.value==2?'2':datum.value==3?'3':datum.value==4?'4':datum.value==5?'5':datum.value==6?'6':''",
         "labelFontSize":11,"labelFontWeight":"bold","labelPadding":7}}
      },
      "layer":[
       {"data":{"name":"tl_ns"},"mark":{"type":"circle","color":"#000","size":5,"opacity":1}},
       {"data":{"values":[{"lfc":0,"nlp":-0.4,"nlp_end":7.05}]},"mark":{"type":"rule","color":"#888","strokeWidth":1.5},
        "encoding":{"y2":{"field":"nlp_end"}}},
       {"data":{"name":"tl_core"},"mark":{"type":"circle","color":"#000","size":45,"opacity":1}},
       {"data":{"name":"tl_blue"},"mark":{"type":"circle","color":"#1a24ee","size":26,"opacity":1}},
       {"data":{"name":"tl_grey"},"mark":{"type":"point","filled":true,"fill":"#d4d2b8","stroke":"#8a8a8a","strokeWidth":0.8,"size":22,"opacity":1}},
       {"data":{"values":[{"strain":"Mut2","lfc":-2.18,"nlp":0.13}]},"mark":{"type":"text","align":"left","fontSize":16,"color":"#222"},
        "encoding":{"text":{"field":"strain"}}},
       {"data":{"values":[{"strain":"OE","lfc":1.04,"nlp":0.13}]},"mark":{"type":"text","align":"right","fontSize":16,"color":"#222"},
        "encoding":{"text":{"field":"strain"}}}
      ]
     }
    ]
   },
   {
    "title":{"text":"C","anchor":"start","fontSize":13,"offset":19,"dx":-4},
    "spacing":-2,
    "vconcat":[
     {"width":1,"height":1,"data":{"values":[{}]},"mark":{"type":"point","opacity":0},"encoding":{},
      "title":{"text":"+ESI EIC (964.930) TAG 58:0","fontSize":14,"anchor":"start","dx":27,"offset":11}},
     {
      "spacing":40,
      "hconcat":[
       {
        "bounds":"flush","spacing":14,
        "vconcat":[
         {"width":160,"height":70,"data":{"name":"eic_tl_oe"},
          "title":{"text":"Total Lipids","fontSize":14,"offset":-4},
          "mark":{"type":"line","color":"#4daf4a","strokeWidth":1.3},
          "encoding":{
           "x":{"field":"t","type":"quantitative","scale":{"domain":[0.81,5.39],"nice":false,"zero":false},"axis":{"values":[1,1.25,1.5,1.75,2,2.25,2.5,2.75,3,3.25,3.5,3.75,4,4.25,4.5,4.75,5,5.25],"labels":false,"title":null,"grid":false,"tickSize":3,"domainWidth":1.3}},
           "y":{"field":"c","type":"quantitative","scale":{"domain":[0,1.2],"nice":false,"zero":false},"axis":{"values":[0,0.2,0.4,0.6,0.8,1],"labelExpr":"datum.value==0?'0':datum.value==0.4?'0.4':datum.value==0.8?'0.8':''","labelOverlap":false,"labelFontSize":10,"tickSize":3,"grid":false,"domainWidth":1.3,"title":"x10⁵","titleAngle":0,"titleFontSize":9,"titleFontWeight":"bold","titleX":-11,"titleY":-1,"titleAlign":"center","titleBaseline":"alphabetic"}}
          }},
         {"width":160,"height":70,"data":{"name":"eic_tl_wt"},
          "mark":{"type":"line","color":"#111","strokeWidth":1.3},
          "encoding":{
           "x":{"field":"t","type":"quantitative","scale":{"domain":[0.81,5.39],"nice":false,"zero":false},"axis":{"values":[1,1.25,1.5,1.75,2,2.25,2.5,2.75,3,3.25,3.5,3.75,4,4.25,4.5,4.75,5,5.25],"labels":false,"title":null,"grid":false,"tickSize":3,"domainWidth":1.3}},
           "y":{"field":"c","type":"quantitative","scale":{"domain":[0,1.2],"nice":false,"zero":false},"axis":{"values":[0,0.2,0.4,0.6,0.8,1],"labelExpr":"datum.value==0?'0':datum.value==0.4?'0.4':datum.value==0.8?'0.8':''","labelOverlap":false,"labelFontSize":10,"tickSize":3,"grid":false,"domainWidth":1.3,"title":null}}
          }},
         {"width":160,"height":70,
          "encoding":{
           "x":{"field":"t","type":"quantitative","scale":{"domain":[0.81,5.39],"nice":false,"zero":false},"axis":{"values":[1,1.25,1.5,1.75,2,2.25,2.5,2.75,3,3.25,3.5,3.75,4,4.25,4.5,4.75,5,5.25],"labels":false,"title":null,"grid":false,"tickSize":3,"domainWidth":1.3}},
           "y":{"field":"c","type":"quantitative","scale":{"domain":[0,1.2],"nice":false,"zero":false},"axis":{"values":[0,0.2,0.4,0.6,0.8,1],"labelExpr":"datum.value==0?'0':datum.value==0.4?'0.4':datum.value==0.8?'0.8':''","labelOverlap":false,"labelFontSize":10,"tickSize":3,"grid":false,"domainWidth":1.3,"title":null}}
          },
          "layer":[
           {"data":{"name":"eic_tl_mut2"},"mark":{"type":"line","color":"#d42a2a","strokeWidth":1.3}},
           {"data":{"values":[{"strain":"Mut2","t":1.79,"c":0.82}]},"mark":{"type":"text","fontSize":16,"color":"#222"},"encoding":{"text":{"field":"strain"}}}
          ]},
         {"width":160,"height":70,"data":{"name":"eic_tl_comp2"},
          "mark":{"type":"line","color":"#2b4a9e","strokeWidth":1.3},
          "encoding":{
           "x":{"field":"t","type":"quantitative","scale":{"domain":[0.81,5.39],"nice":false,"zero":false},"axis":{"values":[1,1.25,1.5,1.75,2,2.25,2.5,2.75,3,3.25,3.5,3.75,4,4.25,4.5,4.75,5,5.25],"labelExpr":"datum.value==1.5?'1.5':datum.value==2.5?'2.5':datum.value==3.5?'3.5':''","labelOverlap":false,"labelFontSize":10,"labelFontWeight":"bold","labelPadding":5,"title":null,"grid":false,"tickSize":3,"domainWidth":1.3}},
           "y":{"field":"c","type":"quantitative","scale":{"domain":[0,1.2],"nice":false,"zero":false},"axis":{"values":[0,0.2,0.4,0.6,0.8,1],"labelExpr":"datum.value==0?'0':datum.value==0.4?'0.4':datum.value==0.8?'0.8':''","labelOverlap":false,"labelFontSize":10,"tickSize":3,"grid":false,"domainWidth":1.3,
            "title":"Counts  ────────────────────►","titleFontSize":16,"titleFontWeight":"bold","titleAngle":-90,"titleAlign":"left","titleBaseline":"middle","titleX":-40,"titleY":61}}
          }}
        ]
       },
       {
        "bounds":"flush","spacing":14,
        "vconcat":[
         {"width":158,"height":69,
          "title":{"text":"Culture Medium","fontSize":14,"offset":0},
          "encoding":{
           "x":{"field":"t","type":"quantitative","scale":{"domain":[0.78,5.17],"nice":false,"zero":false},"axis":{"values":[1,1.25,1.5,1.75,2,2.25,2.5,2.75,3,3.25,3.5,3.75,4,4.25,4.5,4.75,5],"labels":false,"title":null,"grid":false,"tickSize":3,"domainWidth":1.3}},
           "y":{"field":"c","type":"quantitative","scale":{"domain":[0,2.34],"nice":false,"zero":false},"axis":{"values":[0,0.2,0.4,0.6,0.8,1,1.2,1.4,1.6,1.8,2,2.2],"labelExpr":"datum.value==0?'0':datum.value==1?'1':datum.value==2?'2':''","labelOverlap":false,"labelFontSize":10,"tickSize":3,"grid":false,"domainWidth":1.3,"title":"x10⁴","titleAngle":0,"titleFontSize":9,"titleFontWeight":"bold","titleX":-14,"titleY":-5,"titleAlign":"center","titleBaseline":"alphabetic"}}
          },
          "layer":[
           {"data":{"name":"eic_cm_oe"},"mark":{"type":"line","color":"#4daf4a","strokeWidth":1.3}},
           {"data":{"values":[{"strain":"OE","t":4.72,"c":1.49}]},"mark":{"type":"text","fontSize":16,"color":"#222"},"encoding":{"text":{"field":"strain"}}}
          ]},
         {"width":158,"height":69,
          "encoding":{
           "x":{"field":"t","type":"quantitative","scale":{"domain":[0.78,5.17],"nice":false,"zero":false},"axis":{"values":[1,1.25,1.5,1.75,2,2.25,2.5,2.75,3,3.25,3.5,3.75,4,4.25,4.5,4.75,5],"labels":false,"title":null,"grid":false,"tickSize":3,"domainWidth":1.3}},
           "y":{"field":"c","type":"quantitative","scale":{"domain":[0,2.34],"nice":false,"zero":false},"axis":{"values":[0,0.2,0.4,0.6,0.8,1,1.2,1.4,1.6,1.8,2,2.2],"labelExpr":"datum.value==0?'0':datum.value==1?'1':datum.value==2?'2':''","labelOverlap":false,"labelFontSize":10,"tickSize":3,"grid":false,"domainWidth":1.3,"title":null}}
          },
          "layer":[
           {"data":{"name":"eic_cm_wt"},"mark":{"type":"line","color":"#111","strokeWidth":1.3}},
           {"data":{"values":[{"strain":"WT","t":4.7,"c":1.63}]},"mark":{"type":"text","fontSize":16,"color":"#222"},"encoding":{"text":{"field":"strain"}}}
          ]},
         {"width":158,"height":69,
          "encoding":{
           "x":{"field":"t","type":"quantitative","scale":{"domain":[0.78,5.17],"nice":false,"zero":false},"axis":{"values":[1,1.25,1.5,1.75,2,2.25,2.5,2.75,3,3.25,3.5,3.75,4,4.25,4.5,4.75,5],"labels":false,"title":null,"grid":false,"tickSize":3,"domainWidth":1.3}},
           "y":{"field":"c","type":"quantitative","scale":{"domain":[0,2.34],"nice":false,"zero":false},"axis":{"values":[0,0.2,0.4,0.6,0.8,1,1.2,1.4,1.6,1.8,2,2.2],"labelExpr":"datum.value==0?'0':datum.value==1?'1':datum.value==2?'2':''","labelOverlap":false,"labelFontSize":10,"tickSize":3,"grid":false,"domainWidth":1.3,"title":null}}
          },
          "layer":[
           {"data":{"name":"eic_cm_mut2"},"mark":{"type":"line","color":"#d42a2a","strokeWidth":1.3}},
           {"data":{"values":[{"strain":"Mut2","t":4.6,"c":1.76}]},"mark":{"type":"text","fontSize":16,"color":"#222"},"encoding":{"text":{"field":"strain"}}}
          ]},
         {"width":158,"height":69,
          "encoding":{
           "x":{"field":"t","type":"quantitative","scale":{"domain":[0.78,5.17],"nice":false,"zero":false},"axis":{"values":[1,1.25,1.5,1.75,2,2.25,2.5,2.75,3,3.25,3.5,3.75,4,4.25,4.5,4.75,5],"labelExpr":"datum.value==1.5?'1.5':datum.value==2.5?'2.5':datum.value==3.5?'3.5':''","labelOverlap":false,"labelFontSize":10,"labelFontWeight":"bold","labelPadding":5,"title":null,"grid":false,"tickSize":3,"domainWidth":1.3}},
           "y":{"field":"c","type":"quantitative","scale":{"domain":[0,2.34],"nice":false,"zero":false},"axis":{"values":[0,0.2,0.4,0.6,0.8,1,1.2,1.4,1.6,1.8,2,2.2],"labelExpr":"datum.value==0?'0':datum.value==1?'1':datum.value==2?'2':''","labelOverlap":false,"labelFontSize":10,"tickSize":3,"grid":false,"domainWidth":1.3,"title":null}}
          },
          "layer":[
           {"data":{"name":"eic_cm_comp2"},"mark":{"type":"line","color":"#2b4a9e","strokeWidth":1.3}},
           {"data":{"values":[{"strain":"Comp2","t":4.42,"c":1.8}]},"mark":{"type":"text","fontSize":16,"color":"#222"},"encoding":{"text":{"field":"strain"}}}
          ]}
        ]
       }
      ]
     }
    ]
   }
  ]
 }
]
}
